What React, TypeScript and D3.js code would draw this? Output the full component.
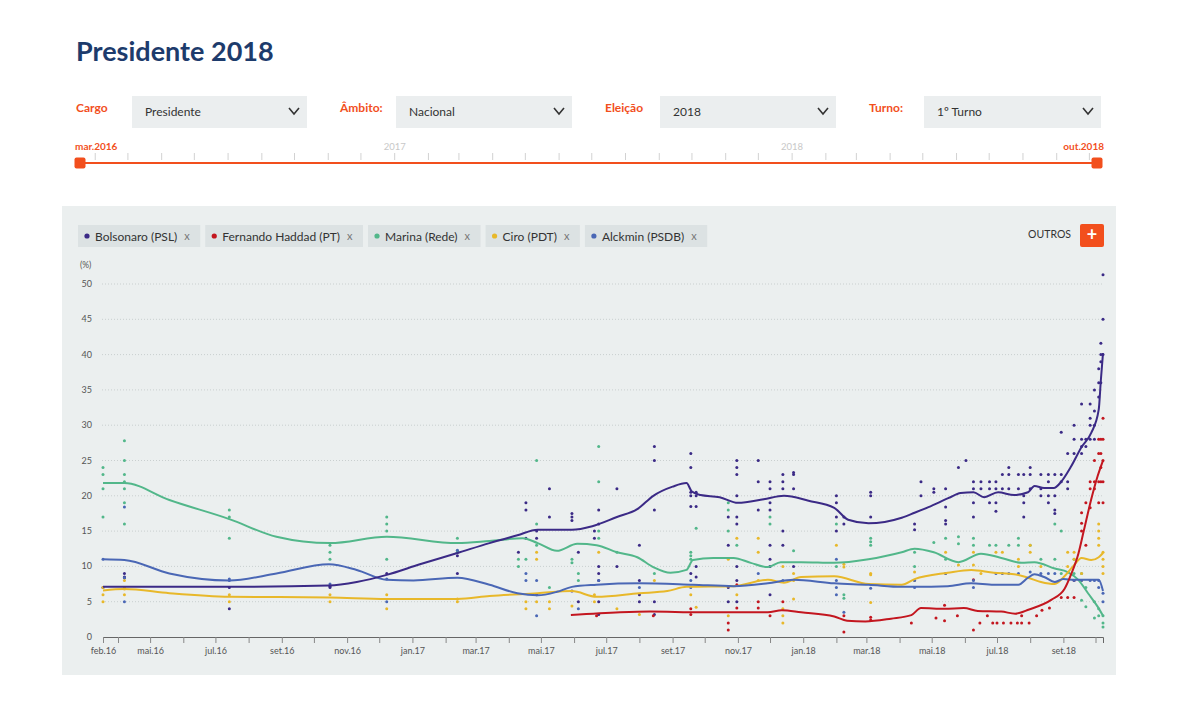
import { useEffect, useRef } from 'react';
import * as d3 from 'd3';

const W = 1200;
const H = 711;
const ORANGE = '#f24f1d';
const FONT = 'Lato, "Open Sans", sans-serif';

const startDate = '2016-03-18';
const endDate = '2018-10-08';

const yTicks = [0, 5, 10, 15, 20, 25, 30, 35, 40, 45, 50];
const xTickDates = ['2016-03-18', '2016-05-01', '2016-07-01', '2016-09-01', '2016-11-01', '2017-01-01', '2017-03-01', '2017-05-01', '2017-07-01', '2017-09-01', '2017-11-01', '2018-01-01', '2018-03-01', '2018-05-01', '2018-07-01', '2018-09-01'];
const xTickLabels = ['feb.16', 'mai.16', 'jul.16', 'set.16', 'nov.16', 'jan.17', 'mar.17', 'mai.17', 'jul.17', 'set.17', 'nov.17', 'jan.18', 'mar.18', 'mai.18', 'jul.18', 'set.18'];
const sliderYears = ['2017-01-01', '2018-01-01'];

const candidates = ['Bolsonaro (PSL)', 'Fernando Haddad (PT)', 'Marina (Rede)', 'Ciro (PDT)', 'Alckmin (PSDB)'];
const colors = ['#3b2a86', '#c3161f', '#52b78a', '#e8b82a', '#4a67b5'];

const controlLabels = ['Cargo', 'Âmbito:', 'Eleição', 'Turno:'];
const controlValues = ['Presidente', 'Nacional', '2018', '1º Turno'];

// smoothed trend lines
const bolsonaroTrend: [string, number][] = [
  ['2016-03-18', 7.1], ['2016-04-07', 7.1], ['2016-07-14', 7.1], ['2016-10-15', 7.3], ['2016-11-10', 7.8],
  ['2016-12-08', 8.8], ['2017-01-08', 10.3], ['2017-02-12', 11.9], ['2017-03-14', 13.3], ['2017-04-09', 14.4],
  ['2017-04-28', 15.2], ['2017-05-30', 15.2], ['2017-06-18', 15.7], ['2017-07-11', 17.0], ['2017-07-30', 18.1],
  ['2017-08-14', 20.0], ['2017-09-01', 21.3], ['2017-09-14', 21.8], ['2017-09-19', 20.6], ['2017-09-27', 20.1],
  ['2017-10-15', 19.8], ['2017-11-01', 19.0], ['2017-11-25', 19.5], ['2017-12-14', 20.0], ['2018-01-06', 19.3],
  ['2018-01-30', 18.3], ['2018-02-12', 16.6], ['2018-03-03', 16.1], ['2018-04-03', 16.9], ['2018-04-15', 17.6],
  ['2018-04-28', 18.4], ['2018-05-17', 19.7], ['2018-05-28', 20.4], ['2018-06-09', 20.5], ['2018-06-19', 19.8],
  ['2018-07-02', 20.5], ['2018-07-17', 20.1], ['2018-07-30', 20.5], ['2018-08-05', 21.4], ['2018-08-14', 21.1],
  ['2018-08-23', 21.1], ['2018-08-30', 22.0], ['2018-09-08', 24.1], ['2018-09-18', 26.9], ['2018-09-27', 28.9],
  ['2018-10-04', 32.2], ['2018-10-06', 36.4], ['2018-10-08', 40.2],
];
const haddadTrend: [string, number][] = [
  ['2017-05-29', 3.1], ['2017-07-14', 3.5], ['2017-08-11', 3.6], ['2017-09-27', 3.5], ['2017-11-29', 3.5],
  ['2017-12-12', 3.8], ['2017-12-30', 3.5], ['2018-01-30', 2.9], ['2018-02-11', 2.3], ['2018-02-28', 2.2],
  ['2018-03-24', 2.6], ['2018-04-12', 3.1], ['2018-04-21', 4.1], ['2018-05-13', 4.0], ['2018-05-31', 4.1],
  ['2018-06-13', 3.7], ['2018-07-05', 3.6], ['2018-07-18', 3.3], ['2018-07-31', 3.9], ['2018-08-21', 5.3],
  ['2018-09-02', 6.8], ['2018-09-08', 8.8], ['2018-09-15', 11.8], ['2018-09-20', 15.0], ['2018-09-27', 19.5],
  ['2018-10-03', 22.8], ['2018-10-08', 25.0],
];
const marinaTrend: [string, number][] = [
  ['2016-03-18', 21.8], ['2016-04-07', 21.8], ['2016-05-19', 19.4], ['2016-07-14', 16.7], ['2016-08-27', 14.2],
  ['2016-10-16', 13.3], ['2016-12-08', 14.2], ['2017-02-12', 13.3], ['2017-03-14', 13.6], ['2017-04-14', 14.0],
  ['2017-04-28', 13.3], ['2017-05-16', 12.2], ['2017-06-04', 13.2], ['2017-06-22', 13.0], ['2017-07-11', 12.0],
  ['2017-07-30', 11.3], ['2017-08-14', 9.9], ['2017-08-30', 9.1], ['2017-09-14', 9.5], ['2017-09-20', 10.9],
  ['2017-10-09', 11.2], ['2017-10-28', 11.2], ['2017-11-13', 10.5], ['2017-11-29', 9.9], ['2017-12-11', 10.6],
  ['2017-12-30', 10.6], ['2018-01-30', 10.5], ['2018-03-03', 11.0], ['2018-04-03', 12.0], ['2018-04-15', 12.5],
  ['2018-05-03', 12.0], ['2018-05-26', 10.6], ['2018-06-16', 11.8], ['2018-07-05', 11.2], ['2018-07-24', 10.5],
  ['2018-08-05', 10.6], ['2018-08-24', 9.7], ['2018-09-05', 9.2], ['2018-09-15', 8.1], ['2018-09-24', 6.2],
  ['2018-10-03', 4.3], ['2018-10-08', 3.0],
];
const ciroTrend: [string, number][] = [
  ['2016-03-18', 6.6], ['2016-04-07', 6.8], ['2016-05-19', 6.2], ['2016-07-14', 5.7], ['2016-10-16', 5.6],
  ['2016-12-08', 5.4], ['2017-02-12', 5.4], ['2017-03-14', 5.8], ['2017-04-28', 6.2], ['2017-05-30', 6.5],
  ['2017-06-22', 5.7], ['2017-08-01', 6.2], ['2017-08-27', 6.5], ['2017-09-14', 7.1], ['2017-10-28', 7.2],
  ['2017-11-29', 8.1], ['2017-12-14', 7.7], ['2017-12-30', 8.5], ['2018-01-30', 8.6], ['2018-03-03', 7.5],
  ['2018-04-03', 7.4], ['2018-04-15', 8.2], ['2018-05-16', 9.1], ['2018-06-07', 9.5], ['2018-06-28', 9.1],
  ['2018-07-17', 8.9], ['2018-07-30', 8.4], ['2018-08-11', 7.8], ['2018-08-24', 7.5], ['2018-09-02', 8.6],
  ['2018-09-10', 10.0], ['2018-09-18', 11.2], ['2018-09-27', 10.9], ['2018-10-04', 11.3], ['2018-10-08', 11.9],
];
const alckminTrend: [string, number][] = [
  ['2016-03-18', 11.0], ['2016-04-07', 10.9], ['2016-05-19', 9.0], ['2016-07-14', 8.0], ['2016-08-27', 9.0],
  ['2016-10-15', 10.3], ['2016-11-10', 9.5], ['2016-12-08', 8.1], ['2017-01-02', 8.0], ['2017-02-12', 8.4],
  ['2017-03-14', 7.4], ['2017-04-09', 6.2], ['2017-04-28', 5.9], ['2017-05-16', 6.4], ['2017-05-30', 7.1],
  ['2017-06-22', 7.4], ['2017-08-01', 7.6], ['2017-09-20', 7.4], ['2017-10-28', 7.2], ['2017-11-29', 7.6],
  ['2017-12-23', 8.1], ['2018-01-30', 7.6], ['2018-03-03', 7.4], ['2018-04-03', 7.1], ['2018-04-15', 7.1],
  ['2018-05-16', 7.2], ['2018-06-07', 7.6], ['2018-06-28', 7.4], ['2018-07-21', 7.4], ['2018-07-30', 8.4],
  ['2018-08-05', 8.9], ['2018-08-14', 8.5], ['2018-08-24', 7.8], ['2018-09-01', 8.2], ['2018-09-11', 8.1],
  ['2018-09-24', 8.1], ['2018-10-04', 8.1], ['2018-10-08', 6.5],
];

// individual poll results (one date, several scenarios)
const bolsonaroPolls: [string, number[]][] = [
  ['2016-03-18', [7]], ['2016-04-07', [8.5, 8.4, 9]], ['2016-07-14', [7, 4]], ['2016-10-16', [7, 7.2]],
  ['2016-12-08', [9]], ['2017-02-12', [12, 11.5, 9]], ['2017-04-10', [12]], ['2017-04-17', [19, 18, 14]],
  ['2017-04-27', [15, 14, 6]], ['2017-05-09', [21, 17]], ['2017-05-30', [17.5, 17, 16.5, 6.5]], ['2017-06-05', [12, 5]],
  ['2017-06-20', [15, 14]], ['2017-06-24', [18, 16, 10, 9, 8, 5, 3.2]], ['2017-07-11', [21, 10]],
  ['2017-08-01', [13, 8, 6, 5]], ['2017-08-15', [27, 25, 18, 5, 3.2]], ['2017-09-18', [26, 24, 20.5, 20, 18.5, 9]],
  ['2017-09-23', [20.5, 20, 18.5, 10, 8.5]], ['2017-10-23', [17, 13, 7, 5]],
  ['2017-10-31', [25, 24, 23, 20, 17, 16, 10, 8, 5]], ['2017-11-20', [25, 22, 18]],
  ['2017-12-01', [22, 21, 19, 18, 13, 11, 10, 6]], ['2017-12-13', [23, 22, 21, 15, 13]],
  ['2017-12-23', [23.3, 23, 21, 10]], ['2018-02-01', [20, 19, 17, 15]], ['2018-02-08', [17, 16]],
  ['2018-03-05', [20.5, 20, 17]], ['2018-04-15', [16, 15.2]], ['2018-04-21', [22, 20]], ['2018-05-03', [21, 20.5]],
  ['2018-05-14', [21, 18.4, 16.5, 16]], ['2018-05-26', [24]], ['2018-06-02', [25]], ['2018-06-09', [22, 21, 19, 17]],
  ['2018-06-16', [22, 21]], ['2018-06-24', [22, 21, 19]], ['2018-06-30', [22, 21, 19, 17.8]], ['2018-07-06', [23, 21]],
  ['2018-07-12', [24, 23, 21]], ['2018-07-21', [23, 21]], ['2018-07-26', [23, 20, 19, 17]], ['2018-08-01', [24, 23, 21]],
  ['2018-08-11', [23, 21, 20]], ['2018-08-18', [23, 22, 20, 19]], ['2018-08-24', [23, 20, 18, 17.5]],
  ['2018-08-30', [29, 23, 22]], ['2018-09-05', [26, 22, 21]], ['2018-09-11', [30, 28, 26]],
  ['2018-09-18', [33, 28, 27, 26]], ['2018-09-22', [28, 27]], ['2018-09-26', [33, 31, 30, 28]],
  ['2018-09-30', [35, 32, 30, 28]], ['2018-10-04', [38, 36, 34]], ['2018-10-06', [41.6, 40, 39, 36]],
  ['2018-10-08', [51.3, 45, 40]],
];
const haddadPolls: [string, number[]][] = [
  ['2017-06-22', [3]], ['2017-08-14', [3]], ['2017-09-18', [4, 3.2]], ['2017-10-23', [2, 1]], ['2017-10-31', [7.4, 4.1]],
  ['2017-11-20', [4.1, 5]], ['2017-12-01', [3]], ['2017-12-13', [5]], ['2018-02-08', [3, 0.7]], ['2018-03-05', [2.8, 2.4]],
  ['2018-04-12', [2]], ['2018-05-05', [2.7]], ['2018-05-13', [4.5, 2.3]], ['2018-05-25', [3]], ['2018-06-09', [1, 8.1]],
  ['2018-06-15', [2]], ['2018-06-22', [3]], ['2018-06-27', [2]], ['2018-07-01', [2]], ['2018-07-07', [2]],
  ['2018-07-14', [2]], ['2018-07-20', [2]], ['2018-07-24', [3, 2]], ['2018-07-31', [2]], ['2018-08-07', [3]],
  ['2018-08-12', [3.8]], ['2018-08-19', [4.1]], ['2018-08-30', [5.6]], ['2018-09-05', [5.6]], ['2018-09-11', [8, 5.6]],
  ['2018-09-18', [17.6, 16.1, 15]], ['2018-09-22', [19, 13]], ['2018-09-26', [22, 21, 18.3]], ['2018-09-30', [25, 22, 21]],
  ['2018-10-04', [28, 26, 22, 19]], ['2018-10-06', [28, 26, 24, 22]], ['2018-10-08', [31, 28, 25, 22, 19]],
];
const marinaPolls: [string, number[]][] = [
  ['2016-03-18', [24, 23, 21, 17]], ['2016-04-07', [27.8, 25, 23, 22, 21, 19, 16]], ['2016-07-14', [18, 17, 14]],
  ['2016-10-16', [13, 12, 11]], ['2016-12-08', [17, 16, 15, 11]], ['2017-02-12', [14, 12.2, 12]], ['2017-04-10', [11, 10]],
  ['2017-04-17', [11]], ['2017-04-27', [25, 16, 13]], ['2017-05-09', [7]], ['2017-05-30', [11, 10.5]],
  ['2017-06-05', [9, 8]], ['2017-06-24', [27, 22, 15, 14]], ['2017-07-11', [12]], ['2017-08-15', [9]],
  ['2017-09-18', [12, 11.5, 11]], ['2017-09-23', [15.4]], ['2017-10-23', [19, 18, 15]], ['2017-10-31', [13]],
  ['2017-12-01', [17, 16]], ['2017-12-23', [12.2]], ['2018-02-01', [16, 10]], ['2018-02-08', [6, 5.5]],
  ['2018-03-05', [14, 13.5, 13]], ['2018-04-15', [12, 10]], ['2018-05-03', [13.4]], ['2018-05-14', [14, 11]],
  ['2018-05-26', [14.2, 13.2]], ['2018-06-09', [14, 13]], ['2018-06-24', [13]], ['2018-06-30', [13]],
  ['2018-07-12', [13]], ['2018-07-21', [14, 13]], ['2018-08-01', [13]], ['2018-08-11', [11]], ['2018-08-24', [16, 11]],
  ['2018-08-30', [15, 9]], ['2018-09-11', [11, 9]], ['2018-09-18', [9, 5.2]], ['2018-09-22', [7, 4.3]],
  ['2018-09-30', [5, 2.7]], ['2018-10-04', [4, 3]], ['2018-10-08', [3, 2, 1.4]],
];
const ciroPolls: [string, number[]][] = [
  ['2016-03-18', [7, 6, 5]], ['2016-04-07', [8, 7, 6.8, 6]], ['2016-07-14', [6, 5]], ['2016-10-16', [6, 5]],
  ['2016-12-08', [6, 4]], ['2017-02-12', [5.4, 5]], ['2017-04-17', [5, 4]], ['2017-04-27', [12, 11, 5]],
  ['2017-05-09', [5, 4]], ['2017-05-30', [4.4]], ['2017-06-20', [6, 5]], ['2017-06-24', [12]], ['2017-07-11', [4]],
  ['2017-08-01', [3.2]], ['2017-08-15', [8]], ['2017-09-18', [6]], ['2017-09-23', [4.2]], ['2017-10-23', [11, 3]],
  ['2017-10-31', [14, 6]], ['2017-11-20', [14, 12, 8]], ['2017-12-13', [10, 4, 3, 2]], ['2017-12-23', [9, 8, 5.4]],
  ['2018-02-01', [13]], ['2018-02-08', [10.3, 9.9]], ['2018-03-05', [9, 8.8, 4.9]], ['2018-04-15', [9.2, 8]],
  ['2018-05-14', [12, 9]], ['2018-05-26', [10.2]], ['2018-06-09', [12, 10.2]], ['2018-06-16', [9]],
  ['2018-06-30', [12]], ['2018-07-06', [12]], ['2018-07-21', [11, 10]], ['2018-08-01', [13, 12]], ['2018-08-11', [10]],
  ['2018-09-05', [12, 10]], ['2018-09-11', [12, 11]], ['2018-09-18', [9, 8]], ['2018-10-04', [16, 15, 14, 13]],
  ['2018-10-08', [12, 11, 10, 9]],
];
const alckminPolls: [string, number[]][] = [
  ['2016-03-18', [11]], ['2016-04-07', [18.4, 8.4, 5]], ['2016-07-14', [8.2, 8]], ['2016-10-16', [7.5]],
  ['2016-12-08', [8.2, 5]], ['2017-02-12', [12.3]], ['2017-04-17', [9, 8]], ['2017-04-27', [8, 3]], ['2017-06-05', [4]],
  ['2017-06-24', [8]], ['2017-08-01', [7]], ['2017-09-18', [8, 7]], ['2017-11-20', [9]], ['2017-12-13', [8]],
  ['2018-02-01', [11, 8, 7, 6]], ['2018-02-08', [3.5]], ['2018-03-05', [6.9]], ['2018-04-15', [8, 7]],
  ['2018-05-14', [9]], ['2018-06-09', [8, 7]], ['2018-06-30', [9]], ['2018-07-06', [9]], ['2018-07-12', [9]],
  ['2018-07-21', [9]], ['2018-08-01', [9.2]], ['2018-08-11', [9]], ['2018-08-18', [9]], ['2018-08-24', [9]],
  ['2018-09-11', [8]], ['2018-09-18', [8]], ['2018-09-26', [8]], ['2018-09-30', [8]], ['2018-10-04', [8, 7]],
  ['2018-10-08', [6.2, 5]],
];

const trends = [bolsonaroTrend, haddadTrend, marinaTrend, ciroTrend, alckminTrend];
const polls = [bolsonaroPolls, haddadPolls, marinaPolls, ciroPolls, alckminPolls];

export default function App() {
  const svgRef = useRef<SVGSVGElement>(null);

  useEffect(() => {
    if (!svgRef.current) return;
    const svg = d3.select(svgRef.current);
    svg.selectAll('*').remove();
    svg.style('font-family', FONT);

    const parse = d3.timeParse('%Y-%m-%d');
    const d0 = parse(startDate)!;
    const d1 = parse(endDate)!;

    // title
    svg.append('text')
      .attr('x', 76).attr('y', 61)
      .attr('font-size', 27).attr('font-weight', 700)
      .attr('fill', '#1d3b6c')
      .text('Presidente 2018');

    // controls
    const ctrlX = [76, 340, 605, 869];
    const boxX = [132, 396, 660, 924];
    const boxW = [175, 176, 176, 177];
    controlLabels.forEach((lab, i) => {
      svg.append('text')
        .attr('x', ctrlX[i]).attr('y', 112)
        .attr('font-size', 12).attr('font-weight', 700)
        .attr('fill', ORANGE).text(lab);
      svg.append('rect')
        .attr('x', boxX[i]).attr('y', 96).attr('width', boxW[i]).attr('height', 32)
        .attr('fill', '#ebeeef');
      svg.append('text')
        .attr('x', boxX[i] + 13).attr('y', 116)
        .attr('font-size', 12).attr('fill', '#333')
        .text(controlValues[i]);
      const cx = boxX[i] + boxW[i] - 13;
      svg.append('path')
        .attr('d', `M${cx - 5},${108}L${cx},${114}L${cx + 5},${108}`)
        .attr('fill', 'none').attr('stroke', '#333').attr('stroke-width', 1.6);
    });

    // time slider
    const sx = d3.scaleTime().domain([d0, d1]).range([80, 1097]);
    svg.append('g').selectAll('line')
      .data(d3.timeMonth.range(d3.timeMonth.ceil(d0), d1))
      .enter().append('line')
      .attr('x1', d => sx(d)).attr('x2', d => sx(d))
      .attr('y1', 153).attr('y2', 160)
      .attr('stroke', '#d2d2d2');
    svg.append('g').selectAll('text')
      .data(sliderYears)
      .enter().append('text')
      .attr('x', d => sx(parse(d)!)).attr('y', 150)
      .attr('text-anchor', 'middle').attr('font-size', 9.5)
      .attr('fill', '#c8c8c8')
      .text(d => d.slice(0, 4));
    svg.append('line')
      .attr('x1', 80).attr('x2', 1097).attr('y1', 163).attr('y2', 163)
      .attr('stroke', ORANGE).attr('stroke-width', 2);
    [80, 1097].forEach(x => {
      svg.append('rect')
        .attr('x', x - 5.5).attr('y', 157.5).attr('width', 11).attr('height', 11).attr('rx', 2)
        .attr('fill', ORANGE);
    });
    svg.append('text').attr('x', 75).attr('y', 150)
      .attr('font-size', 10).attr('font-weight', 700).attr('fill', ORANGE).text('mar.2016');
    svg.append('text').attr('x', 1104).attr('y', 150).attr('text-anchor', 'end')
      .attr('font-size', 10).attr('font-weight', 700).attr('fill', ORANGE).text('out.2018');

    // panel
    svg.append('rect')
      .attr('x', 62).attr('y', 206).attr('width', 1054).attr('height', 469)
      .attr('fill', '#ebefef');

    // legend chips
    let lx = 78;
    candidates.forEach((name, i) => {
      const g = svg.append('g').attr('transform', `translate(${lx},225)`);
      const bg = g.append('rect').attr('height', 22).attr('fill', '#dce2e3');
      g.append('circle').attr('cx', 9).attr('cy', 11).attr('r', 2.6).attr('fill', colors[i]);
      const t = g.append('text').attr('x', 17).attr('y', 15.5)
        .attr('font-size', 12).attr('fill', '#333').text(name);
      const tw = (t.node() as SVGTextElement).getComputedTextLength();
      g.append('text').attr('x', 17 + tw + 7).attr('y', 15)
        .attr('font-size', 11).attr('fill', '#777').text('x');
      const w = 17 + tw + 23;
      bg.attr('width', w);
      lx += w + 5;
    });

    svg.append('text').attr('x', 1071).attr('y', 238).attr('text-anchor', 'end')
      .attr('font-size', 10.5).attr('fill', '#333').text('OUTROS');
    svg.append('rect').attr('x', 1080).attr('y', 224).attr('width', 24).attr('height', 23).attr('rx', 2)
      .attr('fill', ORANGE);
    svg.append('text').attr('x', 1092).attr('y', 241).attr('text-anchor', 'middle')
      .attr('font-size', 18).attr('font-weight', 700).attr('fill', '#fff').text('+');

    // chart scales
    const x = d3.scaleTime().domain([d0, d1]).range([103, 1103]);
    const y = d3.scaleLinear().domain([0, 50]).range([637, 284]);

    svg.append('text').attr('x', 80).attr('y', 268)
      .attr('font-size', 8.5).attr('fill', '#555').text('(%)');

    const grid = svg.append('g');
    grid.selectAll('line')
      .data(yTicks.filter(v => v > 0))
      .enter().append('line')
      .attr('x1', 102).attr('x2', 1104)
      .attr('y1', d => y(d)).attr('y2', d => y(d))
      .attr('stroke', '#c9cfcf').attr('stroke-dasharray', '1,2');
    grid.selectAll('text')
      .data(yTicks)
      .enter().append('text')
      .attr('x', 92).attr('y', d => y(d) + 3)
      .attr('text-anchor', 'end').attr('font-size', 9).attr('fill', '#555')
      .text(d => d);

    // x axis
    const monthTicks = [d0, ...d3.timeMonth.range(d3.timeMonth.ceil(d0), d1)];
    const labelMap = new Map(xTickDates.map((d, i) => [+parse(d)!, xTickLabels[i]]));
    const axis = svg.append('g')
      .attr('transform', 'translate(0,637)')
      .call(
        d3.axisBottom(x)
          .tickValues(monthTicks)
          .tickSizeInner(6).tickSizeOuter(6).tickPadding(5)
          .tickFormat(d => labelMap.get(+(d as Date)) ?? '')
      );
    axis.select('.domain').attr('stroke', '#666');
    axis.selectAll('.tick line').attr('stroke', '#888');
    axis.selectAll('.tick text')
      .attr('font-family', FONT).attr('font-size', 9).attr('fill', '#555');

    // poll dots
    polls.forEach((series, i) => {
      const pts = series.flatMap(([d, vals]) => vals.map(v => [parse(d)!, v] as [Date, number]));
      svg.append('g').selectAll('circle')
        .data(pts)
        .enter().append('circle')
        .attr('cx', d => x(d[0])).attr('cy', d => y(d[1]))
        .attr('r', 1.5)
        .attr('fill', colors[i]);
    });

    // trend lines
    const line = d3.line<[Date, number]>()
      .x(d => x(d[0])).y(d => y(d[1]))
      .curve(d3.curveMonotoneX);
    [2, 3, 4, 1, 0].forEach(i => {
      const pts = trends[i].map(([d, v]) => [parse(d)!, v] as [Date, number]);
      svg.append('path')
        .datum(pts)
        .attr('fill', 'none')
        .attr('stroke', colors[i])
        .attr('stroke-width', 2)
        .attr('d', line);
    });
  }, []);

  return (
    <svg
      ref={svgRef}
      width={W}
      height={H}
      style={{ position: 'absolute', left: 0, top: 0, display: 'block', background: '#fff' }}
    ></svg>
  );
}
